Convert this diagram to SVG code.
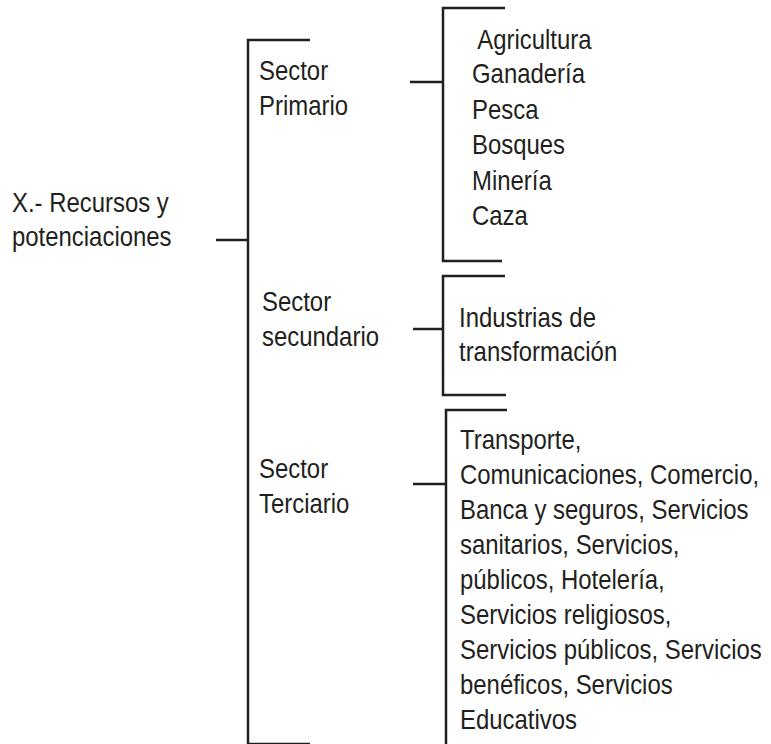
<svg xmlns="http://www.w3.org/2000/svg" width="771" height="744" viewBox="0 0 771 744">
<style>
  .ln { fill: none; stroke: #231f20; stroke-width: 2.5; stroke-linecap: butt; stroke-linejoin: miter; }
  .tx { font-family: "Liberation Sans", Arial, sans-serif; font-size: 27.5px; fill: #231f20; }
</style>
<rect x="0" y="0" width="771" height="744" fill="#ffffff"/>
<g id="connectors">
  <path class="ln" d="M216,240 H248"/>
  <path class="ln" d="M310,40 H248 V744"/>
  <path class="ln" d="M248,744 H310"/>
  <path class="ln" d="M410,82 H443"/>
  <path class="ln" d="M505,8 H443 V261 H502"/>
  <path class="ln" d="M413,329 H443"/>
  <path class="ln" d="M505,276 H443 V395 H506"/>
  <path class="ln" d="M413,484 H446"/>
  <path class="ln" d="M507,410 H446 V744"/>
</g>
<g id="root">
  <text class="tx" transform="translate(12,212) scale(0.87,1)"><tspan x="0" y="0">X.- Recursos y</tspan><tspan x="0" y="34">potenciaciones</tspan></text>
</g>
<g id="sector-primario">
  <text class="tx" transform="translate(259,80) scale(0.87,1)"><tspan x="0" y="0">Sector</tspan><tspan x="0" y="35">Primario</tspan></text>
</g>
<g id="sector-secundario">
  <text class="tx" transform="translate(262,311) scale(0.87,1)"><tspan x="0" y="0">Sector</tspan><tspan x="0" y="35">secundario</tspan></text>
</g>
<g id="sector-terciario">
  <text class="tx" transform="translate(259,478) scale(0.87,1)"><tspan x="0" y="0">Sector</tspan><tspan x="0" y="35">Terciario</tspan></text>
</g>
<g id="primario-items">
  <text class="tx" transform="translate(472,49) scale(0.87,1)"><tspan x="6" y="0">Agricultura</tspan><tspan x="0" y="34">Ganadería</tspan><tspan x="0" y="70">Pesca</tspan><tspan x="0" y="105">Bosques</tspan><tspan x="0" y="141">Minería</tspan><tspan x="0" y="176">Caza</tspan></text>
</g>
<g id="secundario-items">
  <text class="tx" transform="translate(459,327) scale(0.87,1)"><tspan x="0" y="0">Industrias de</tspan><tspan x="0" y="34">transformación</tspan></text>
</g>
<g id="terciario-items">
  <text class="tx" transform="translate(460,449) scale(0.87,1)"><tspan x="0" y="0">Transporte,</tspan><tspan x="0" y="35">Comunicaciones, Comercio,</tspan><tspan x="0" y="70">Banca y seguros, Servicios</tspan><tspan x="0" y="105">sanitarios, Servicios,</tspan><tspan x="0" y="140">públicos, Hotelería,</tspan><tspan x="0" y="175">Servicios religiosos,</tspan><tspan x="0" y="210">Servicios públicos, Servicios</tspan><tspan x="0" y="245">benéficos, Servicios</tspan><tspan x="0" y="280">Educativos</tspan></text>
</g>
</svg>
